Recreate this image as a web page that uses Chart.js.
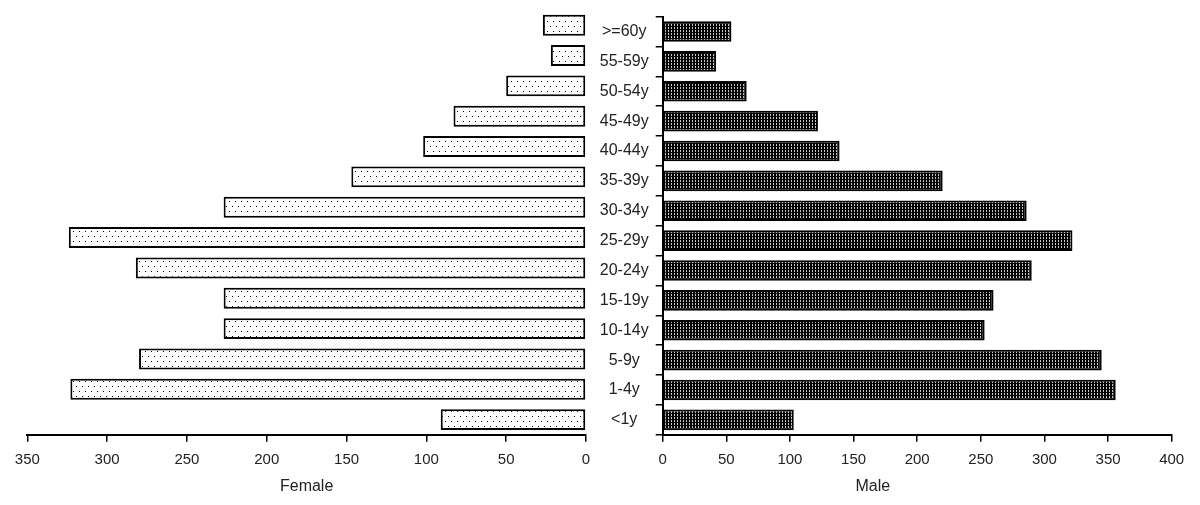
<!DOCTYPE html>
<html><head><meta charset="utf-8">
<script src="https://cdn.jsdelivr.net/npm/chart.js@4.4.1/dist/chart.umd.min.js"></script>
<style>
html,body{margin:0;padding:0;background:#fff;width:1200px;height:505px;overflow:hidden}
canvas{position:absolute;top:0}
#f{left:0}
#m{left:574px}
</style></head><body>
<canvas id="f" width="613" height="505"></canvas>
<canvas id="m" width="626" height="505"></canvas>
<script>
const categories = ['>=60y','55-59y','50-54y','45-49y','40-44y','35-39y','30-34y','25-29y','20-24y','15-19y','10-14y','5-9y','1-4y','<1y'];
const female = [27, 22, 50, 83, 102, 147, 227, 324, 282, 227, 227, 280, 323, 91];
const male = [54, 42, 66, 122, 139, 220, 286, 322, 290, 260, 253, 345, 356, 103];
const femaleAxis = {min: 0, max: 350, step: 50};
const maleAxis = {min: 0, max: 400, step: 50};

function makePattern(w, h, bg, fg, pts) {
  const c = document.createElement('canvas');
  c.width = w; c.height = h;
  const g = c.getContext('2d');
  g.fillStyle = bg; g.fillRect(0, 0, w, h);
  g.fillStyle = fg;
  pts.forEach(p => g.fillRect(p[0], p[1], 1, 1));
  return g.createPattern(c, 'repeat');
}
const ctxF = document.getElementById('f').getContext('2d');
const ctxM = document.getElementById('m').getContext('2d');
const dotPattern = makePattern(6, 10, '#ffffff', '#000000', [[1,1],[4,6]]);
const darkPattern = makePattern(3, 3, '#000000', '#c8c8c8', [[1,0],[1,1]]);

const FONT = {family: '"Liberation Sans", Arial, sans-serif', size: 15};
const LABEL_FONT = {family: '"Liberation Sans", Arial, sans-serif', size: 16};
const TXT = '#222';

function xScale(ax, reverse) {
  return {
    type: 'linear', reverse: reverse, min: ax.min, max: ax.max,
    afterFit: s => { s.height = 42; },
    ticks: {stepSize: ax.step, font: FONT, color: TXT, padding: 9, maxRotation: 0},
    grid: {drawOnChartArea: false, drawTicks: true, tickLength: 7, color: '#000', lineWidth: 1.5},
    border: {display: true, color: '#000', width: 2}
  };
}
function title(t) {
  return {display: true, text: t, position: 'bottom', font: {...LABEL_FONT, weight: 'normal'}, color: TXT, padding: {top: 0, bottom: 9}};
}
const common = {
  indexAxis: 'y', responsive: false, animation: false, devicePixelRatio: 1,
  events: []
};

new Chart(ctxF, {
  type: 'bar',
  data: {labels: categories, datasets: [{data: female, backgroundColor: dotPattern, borderColor: '#000', borderWidth: 2, borderSkipped: false, barPercentage: 0.69, categoryPercentage: 1}]},
  options: {...common,
    layout: {padding: {left: 27.3, right: 27, top: 10, bottom: 0}},
    plugins: {legend: {display: false}, tooltip: {enabled: false}, title: title('Female')},
    scales: {x: xScale(femaleAxis, true), y: {display: false}}
  }
});

new Chart(ctxM, {
  type: 'bar',
  data: {labels: categories, datasets: [{data: male, backgroundColor: darkPattern, borderColor: '#000', borderWidth: 2, borderSkipped: false, barPercentage: 0.69, categoryPercentage: 1}]},
  options: {...common,
    layout: {padding: {left: 0, right: 28.3, top: 10, bottom: 0}},
    plugins: {legend: {display: false}, tooltip: {enabled: false}, title: title('Male')},
    scales: {
      x: xScale(maleAxis, false),
      y: {
        afterFit: s => { s.width = 88.7; },
        ticks: {font: LABEL_FONT, color: TXT, crossAlign: 'center', padding: 7},
        grid: {offset: true, drawOnChartArea: false, drawTicks: true, tickLength: 7, color: '#000', lineWidth: 1.5},
        border: {display: true, color: '#000', width: 2}
      }
    }
  }
});
</script>
</body></html>
